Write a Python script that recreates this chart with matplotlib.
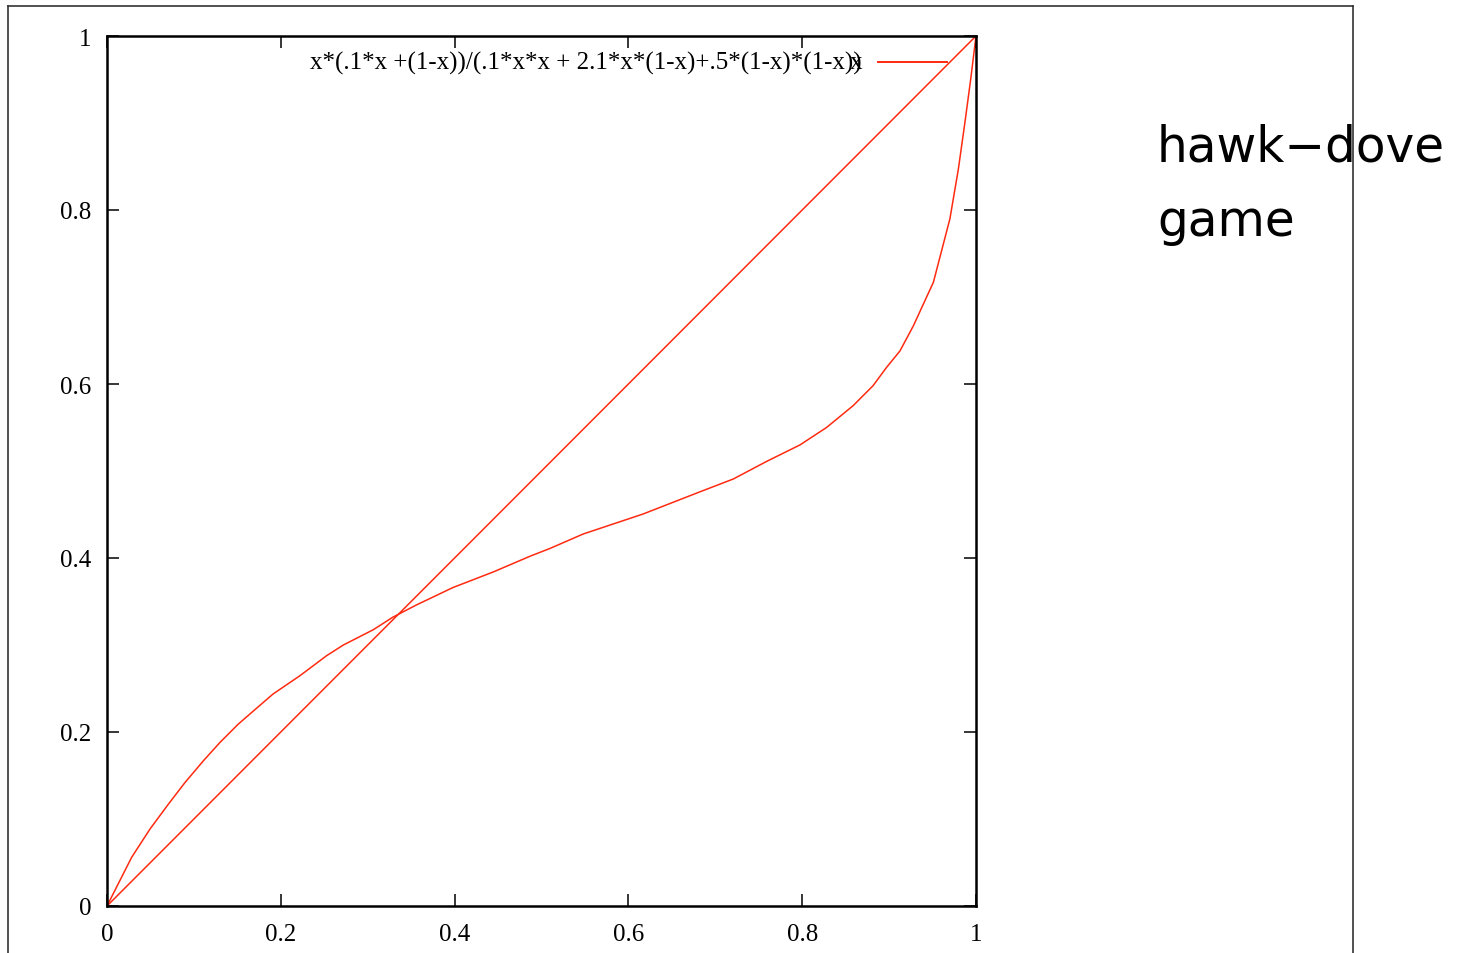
import matplotlib.pyplot as plt
from matplotlib.lines import Line2D

# values
curve_x = [0.0, 0.0284, 0.0495, 0.0706, 0.0898, 0.111, 0.130, 0.151, 0.170, 0.191,
           0.222, 0.2527, 0.272, 0.3065, 0.329, 0.356, 0.398, 0.4446, 0.4867, 0.5098,
           0.548, 0.617, 0.6824, 0.7207, 0.759, 0.7975, 0.828, 0.8585, 0.8815, 0.897,
           0.9125, 0.928, 0.951, 0.970, 0.9797, 0.9873, 0.994, 1.0]
curve_y = [0.0, 0.056, 0.0885, 0.117, 0.142, 0.167, 0.188, 0.209, 0.2255, 0.2436,
           0.2647, 0.2877, 0.300, 0.3176, 0.332, 0.346, 0.366, 0.384, 0.402, 0.411,
           0.4276, 0.4506, 0.4761, 0.4908, 0.511, 0.530, 0.550, 0.575, 0.598, 0.619,
           0.638, 0.667, 0.717, 0.790, 0.847, 0.901, 0.951, 1.0]
diag_x = [0.0, 1.0]
diag_y = [0.0, 1.0]
tick_vals = [0, 0.2, 0.4, 0.6, 0.8, 1]
tick_labels = ['0', '0.2', '0.4', '0.6', '0.8', '1']
key_label = 'x*(.1*x +(1-x))/(.1*x*x + 2.1*x*(1-x)+.5*(1-x)*(1-x))'

RED = '#ff2a10'
serif = 'Liberation Serif'

fig = plt.figure(figsize=(14.58, 9.54), dpi=100)
ax = fig.add_axes([107 / 1458, 47 / 954, 869 / 1458, 870 / 954])

ax.plot(curve_x, curve_y, color=RED, lw=1.1)
ax.plot(diag_x, diag_y, color=RED, lw=1.1)

ax.set_xlim(0, 1)
ax.set_ylim(0, 1)
ax.set_xticks(tick_vals)
ax.set_yticks(tick_vals)
ax.set_xticklabels(tick_labels, fontfamily=serif, fontsize=18)
ax.set_yticklabels(tick_labels, fontfamily=serif, fontsize=18)
ax.tick_params(direction='in', length=8.5, width=1.1, top=True, right=True)
ax.tick_params(axis='x', pad=12)
ax.tick_params(axis='y', pad=11)
for s in ax.spines.values():
    s.set_linewidth(1.8)

# gnuplot-style key, text left of the sample line
ax.text(0.8688, 0.970, key_label, transform=ax.transAxes, ha='right', va='center',
        fontfamily=serif, fontsize=18)
ax.text(0.8688, 0.970, 'x', transform=ax.transAxes, ha='right', va='center',
        fontfamily=serif, fontsize=18)
ax.plot([0.887, 0.9666], [0.970, 0.970], transform=ax.transAxes, color=RED, lw=1.4,
        clip_on=False)

# outer slide frame
frame_kw = dict(color='#333333', lw=1.2, transform=fig.transFigure)
fig.add_artist(Line2D([8 / 1458, 8 / 1458], [0, 1 - 7 / 954], **frame_kw))
fig.add_artist(Line2D([8 / 1458, 1353 / 1458], [1 - 7 / 954, 1 - 7 / 954], **frame_kw))
fig.add_artist(Line2D([1353 / 1458, 1353 / 1458], [0, 1 - 7 / 954], **frame_kw))

fig.text(1157 / 1458, 1 - 162 / 954, 'hawk\u2212dove', fontsize=35,
         family='DejaVu Sans', ha='left', va='baseline')
fig.text(1157 / 1458, 1 - 236 / 954, 'game', fontsize=35,
         family='DejaVu Sans', ha='left', va='baseline')

fig.savefig('out.png', dpi=100)
